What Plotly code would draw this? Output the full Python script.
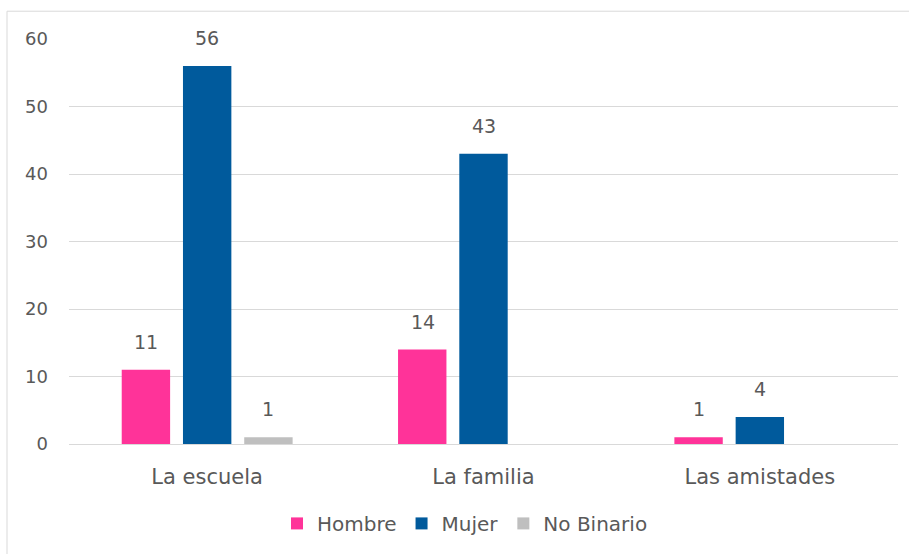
import plotly.graph_objects as go

categories = ["La escuela", "La familia", "Las amistades"]
hombre = [11, 14, 1]
mujer = [56, 43, 4]
no_binario = [1, 0, 0]
series_names = ["Hombre", "Mujer", "No Binario"]
colors = ["#FF3399", "#005A9C", "#BFBFBF"]
y_ticks = [0, 10, 20, 30, 40, 50, 60]

FONT = "'DejaVu Sans', sans-serif"
TXT = "#595959"

L, R, T, B = 69, 898, 39, 447
W, H = 909, 554
PW, PH = R - L, B - T

fig = go.Figure()
series = [hombre, mujer, no_binario]
for name, vals, col in zip(series_names, series, colors):
    fig.add_trace(go.Bar(
        x=categories, y=vals, name=name,
        marker=dict(color=col, line=dict(width=0)),
        cliponaxis=False,
    ))

# data labels via annotations anchored to the data values
annotations = []
offsets = [-61, 0, 61]
for vals, dx in zip(series, offsets):
    for cat, v in zip(categories, vals):
        if v:
            annotations.append(dict(
                x=cat, y=v, xref="x", yref="y", text=str(v), showarrow=False,
                xshift=dx, yshift=15, yanchor="bottom",
                font=dict(family=FONT, size=19, color=TXT)))

fig.update_layout(
    width=W, height=H,
    margin=dict(l=L, r=W - R, t=T, b=H - B),
    paper_bgcolor="white", plot_bgcolor="white",
    barmode="group", bargap=0.335, bargroupgap=0.21,
    font=dict(family=FONT, size=19, color=TXT),
    showlegend=True,
    legend=dict(orientation="h", x=(465 - L) / PW, xanchor="center",
                y=(B - 527) / PH, yanchor="middle",
                font=dict(family=FONT, size=20, color=TXT),
                traceorder="normal"),
    xaxis=dict(showgrid=False, showline=False, ticks="", tickfont=dict(size=21, color=TXT),
               ticklabelstandoff=18),
    yaxis=dict(range=[0, 60], tickvals=y_ticks, showgrid=True, gridcolor="#D9D9D9", gridwidth=1,
               zeroline=True, zerolinecolor="#D9D9D9", zerolinewidth=1, showline=False,
               ticks="", tickfont=dict(size=18, color=TXT), ticklabelstandoff=20),
    annotations=annotations,
    shapes=[dict(type="rect", xref="paper", yref="paper",
                 x0=(7 - L) / PW, x1=(930 - L) / PW,
                 y0=(B - 580) / PH, y1=1 + (T - 11) / PH,
                 line=dict(color="#D9D9D9", width=1), fillcolor="rgba(0,0,0,0)", layer="below")],
)

fig.write_html("out.html", config={"displayModeBar": False},
               post_script="document.body.style.margin='0';document.body.style.padding='0';")
